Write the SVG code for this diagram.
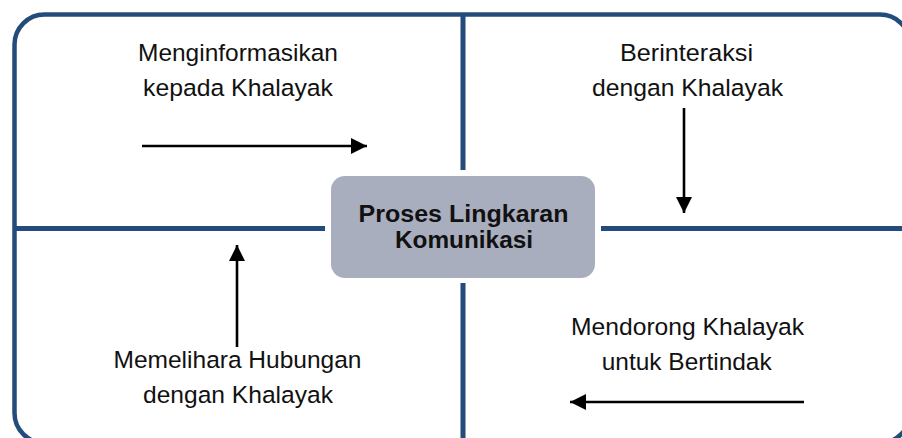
<svg xmlns="http://www.w3.org/2000/svg" width="902" height="438" viewBox="0 0 902 438">
  <style>
    .frame { fill: none; stroke: #234C7D; stroke-width: 4.5; }
    .div { stroke: #234C7D; stroke-width: 5; fill: none; }
    .arr { stroke: #000; stroke-width: 2.6; fill: none; marker-end: url(#ah); }
    .lbl { font-family: "Liberation Sans", Arial, sans-serif; font-size: 24.5px; fill: #111; text-anchor: middle; }
    .core { fill: #A9AEBE; }
    .coretxt { font-family: "Liberation Sans", Arial, sans-serif; font-size: 23.5px; font-weight: bold; fill: #111; text-anchor: middle; }
  </style>
  <defs>
    <marker id="ah" markerUnits="userSpaceOnUse" markerWidth="17" markerHeight="16" refX="16" refY="8" orient="auto">
      <path d="M0,0 L16,8 L0,16 Z" fill="#000"/>
    </marker>
  </defs>
  <rect width="902" height="438" fill="#fff"/>

  <g id="frame">
    <rect class="frame" x="14.5" y="14.5" width="895.5" height="428.5" rx="30" ry="30"/>
  </g>

  <g id="dividers">
    <line class="div" x1="463" y1="14" x2="463" y2="170"/>
    <line class="div" x1="463" y1="283" x2="463" y2="445"/>
    <line class="div" x1="14" y1="228.5" x2="325" y2="228.5"/>
    <line class="div" x1="601" y1="228.5" x2="910" y2="228.5"/>
  </g>

  <g id="center">
    <rect class="core" x="331" y="176" width="264" height="102" rx="14" ry="14"/>
    <text class="coretxt" x="463.5" y="221.5" textLength="210" lengthAdjust="spacingAndGlyphs">Proses Lingkaran</text>
    <text class="coretxt" x="464" y="247.5" textLength="138" lengthAdjust="spacingAndGlyphs">Komunikasi</text>
  </g>

  <g id="informing">
    <text class="lbl" x="238" y="61" textLength="200" lengthAdjust="spacingAndGlyphs">Menginformasikan</text>
    <text class="lbl" x="238" y="96" textLength="190" lengthAdjust="spacingAndGlyphs">kepada Khalayak</text>
  </g>

  <g id="interacting">
    <text class="lbl" x="686.5" y="61" textLength="133" lengthAdjust="spacingAndGlyphs">Berinteraksi</text>
    <text class="lbl" x="687.5" y="95.5" textLength="191" lengthAdjust="spacingAndGlyphs">dengan Khalayak</text>
  </g>

  <g id="encouraging">
    <text class="lbl" x="687.5" y="335" textLength="233" lengthAdjust="spacingAndGlyphs">Mendorong Khalayak</text>
    <text class="lbl" x="686.7" y="370" textLength="170" lengthAdjust="spacingAndGlyphs">untuk Bertindak</text>
  </g>

  <g id="maintaining">
    <text class="lbl" x="237.5" y="368" textLength="248" lengthAdjust="spacingAndGlyphs">Memelihara Hubungan</text>
    <text class="lbl" x="238" y="403" textLength="190" lengthAdjust="spacingAndGlyphs">dengan Khalayak</text>
  </g>

  <g id="connectors">
    <line class="arr" x1="142" y1="146" x2="367" y2="146"/>
    <line class="arr" x1="684" y1="108" x2="684" y2="213"/>
    <line class="arr" x1="804" y1="402" x2="570" y2="402"/>
    <line class="arr" x1="237" y1="347" x2="237" y2="245"/>
  </g>
</svg>
